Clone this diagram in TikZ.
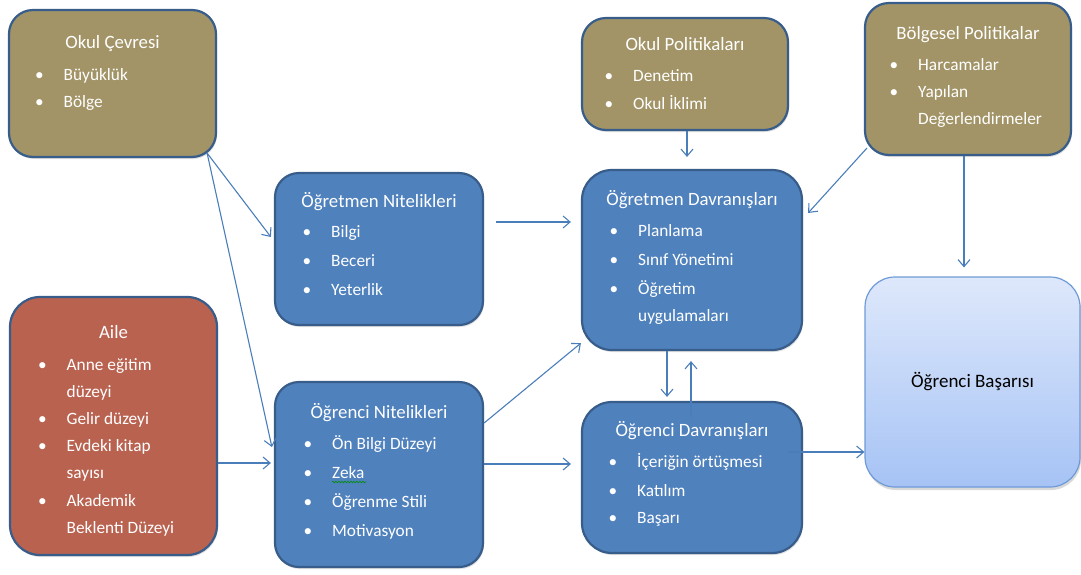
\documentclass[tikz,border=0pt]{standalone}
\usepackage{fontspec}
\setmainfont{Carlito}
\usetikzlibrary{arrows.meta,shadows,decorations.pathmorphing}
\definecolor{boxolive}{RGB}{162,148,103}
\definecolor{boxred}{RGB}{185,98,80}
\definecolor{boxblue}{RGB}{79,129,189}
\definecolor{boxedge}{RGB}{56,93,138}
\definecolor{arrowblue}{RGB}{74,126,187}
\definecolor{goaltop}{RGB}{222,232,251}
\definecolor{goalbot}{RGB}{166,195,245}
\definecolor{goaledge}{RGB}{110,155,215}
\newcommand\bl{\llap{\textbullet\hspace{20pt}}}
\begin{document}
\begin{tikzpicture}[x=1pt,y=-1pt,
  box/.style={draw=boxedge, line width=2.2pt, rounded corners=24pt, inner sep=0pt,
    drop shadow={opacity=0.25, shadow xshift=1pt, shadow yshift=-2pt}},
  olivebox/.style={box, fill=boxolive},
  redbox/.style={box, fill=boxred},
  bluebox/.style={box, fill=boxblue},
  goalbox/.style={draw=goaledge, line width=1.2pt, rounded corners=30pt, inner sep=0pt,
    top color=goaltop, bottom color=goalbot,
    drop shadow={opacity=0.3, shadow xshift=1pt, shadow yshift=-3pt},
    font=\fontsize{19}{22}\selectfont, text=black},
  ttl/.style={text=white, anchor=base, inner sep=0pt, font=\fontsize{18.8}{22}\selectfont},
  itm/.style={text=white, anchor=base west, inner sep=0pt, font=\fontsize{17.3}{20}\selectfont},
  arr/.style={draw=arrowblue, line width=1.1pt, -{Straight Barb[length=7pt,width=12pt]}}
]
\useasboundingbox (0,0) rectangle (1081,574);

% Okul Çevresi
\node[olivebox, minimum width=207pt, minimum height=147pt] (oc) at (112.5,83.5) {};
\node[ttl] (oc-t) at (112.5,48.5) {Okul Çevresi};
\node[itm] (oc-1) at (63.5,80) {\bl Büyüklük};
\node[itm] (oc-2) at (63.5,107.5) {\bl Bölge};

% Aile
\node[redbox, rounded corners=30pt, minimum width=207pt, minimum height=258pt] (ai) at (113.5,426) {};
\node[ttl] (ai-t) at (113.5,338) {Aile};
\node[itm] (ai-1) at (66.5,370) {\bl Anne eğitim};
\node[itm] (ai-2) at (66.5,397.2) {düzeyi};
\node[itm] (ai-3) at (66.5,424.4) {\bl Gelir düzeyi};
\node[itm] (ai-4) at (66.5,451.6) {\bl Evdeki kitap};
\node[itm] (ai-5) at (66.5,478.8) {sayısı};
\node[itm] (ai-6) at (66.5,506) {\bl Akademik};
\node[itm] (ai-7) at (66.5,533.2) {Beklenti Düzeyi};

% Öğretmen Nitelikleri
\node[bluebox, minimum width=208pt, minimum height=152pt] (on) at (379,249) {};
\node[ttl] (on-t) at (379,207) {Öğretmen Nitelikleri};
\node[itm] (on-1) at (331,237) {\bl Bilgi};
\node[itm] (on-2) at (331,266.5) {\bl Beceri};
\node[itm] (on-3) at (331,295.5) {\bl Yeterlik};

% Öğrenci Nitelikleri
\node[bluebox, minimum width=208pt, minimum height=185pt] (rn) at (379,474.5) {};
\node[ttl] (rn-t) at (379,418) {Öğrenci Nitelikleri};
\node[itm] (rn-1) at (332,449.5) {\bl Ön Bilgi Düzeyi};
\node[itm] (rn-2) at (332,478) {\bl Zeka};
\node[itm] (rn-3) at (332,507) {\bl Öğrenme Stili};
\node[itm] (rn-4) at (332,536) {\bl Motivasyon};
\draw[green!55!black, line width=0.6pt, decorate,
  decoration={snake, amplitude=0.8pt, segment length=3pt}] (332,482) -- (366,482);

% Okul Politikaları
\node[olivebox, minimum width=206pt, minimum height=112pt] (op) at (685,74) {};
\node[ttl] (op-t) at (685,50) {Okul Politikaları};
\node[itm] (op-1) at (633,81.5) {\bl Denetim};
\node[itm] (op-2) at (633,109.3) {\bl Okul İklimi};

% Bölgesel Politikalar
\node[olivebox, minimum width=206pt, minimum height=152pt] (bp) at (968,79) {};
\node[ttl] (bp-t) at (968,39) {Bölgesel Politikalar};
\node[itm] (bp-1) at (918,70) {\bl Harcamalar};
\node[itm] (bp-2) at (918,97.5) {\bl Yapılan};
\node[itm] (bp-3) at (918,124.5) {Değerlendirmeler};

% Öğretmen Davranışları
\node[bluebox, rounded corners=30pt, minimum width=220pt, minimum height=180pt] (od) at (692,260) {};
\node[ttl] (od-t) at (692,205) {Öğretmen Davranışları};
\node[itm] (od-1) at (638,236.7) {\bl Planlama};
\node[itm] (od-2) at (638,265.5) {\bl Sınıf Yönetimi};
\node[itm] (od-3) at (638,294.3) {\bl Öğretim};
\node[itm] (od-4) at (638,321) {uygulamaları};

% Öğrenci Davranışları
\node[bluebox, rounded corners=30pt, minimum width=220pt, minimum height=151pt] (rd) at (692,477.5) {};
\node[ttl] (rd-t) at (692,436.7) {Öğrenci Davranışları};
\node[itm] (rd-1) at (637,467.3) {\bl İçeriğin örtüşmesi};
\node[itm] (rd-2) at (637,496) {\bl Katılım};
\node[itm] (rd-3) at (637,523.3) {\bl Başarı};

% Öğrenci Başarısı
\node[goalbox, minimum width=215pt, minimum height=210pt] (ob) at (972.5,382) {Öğrenci Başarısı};

% connectors
\draw[arr] ([shift={(-10pt,5pt)}]oc.south east) -- ([shift={(-3pt,12pt)}]on.west);
\draw[arr] ([shift={(-10pt,5pt)}]oc.south east) -- ([shift={(-2pt,27.5pt)}]rn.west);
\draw[arr] ([yshift=-37pt]ai.east) -- ([shift={(-3pt,11.5pt)}]rn.west);
\draw[arr] ([shift={(12pt,27pt)}]on.east) -- ([shift={(-10pt,38pt)}]od.west);
\draw[arr] ([yshift=51.5pt]rn.east) -- ([yshift=8pt]od.south west);
\draw[arr] ([yshift=10.5pt]rn.east) -- ([shift={(-10pt,13.5pt)}]rd.west);
\draw[arr] ([xshift=2pt]op.south) -- ([shift={(-5pt,12pt)}]od.north);
\draw[arr] ([shift={(3pt,8pt)}]bp.south west) -- ([shift={(5pt,47pt)}]od.east);
\draw[arr] ([xshift=-4pt]bp.south) -- ([shift={(-8.5pt,9pt)}]ob.north);
\draw[arr] ([xshift=-25pt]od.south) -- ([shift={(-25pt,4pt)}]rd.north);
\draw[arr] ([shift={(-1pt,-16pt)}]rd.north) -- ([shift={(-1pt,-10pt)}]od.south);
\draw[arr] ([shift={(-15pt,25.5pt)}]rd.east) -- ([yshift=-70pt]ob.west);
\end{tikzpicture}
\end{document}
